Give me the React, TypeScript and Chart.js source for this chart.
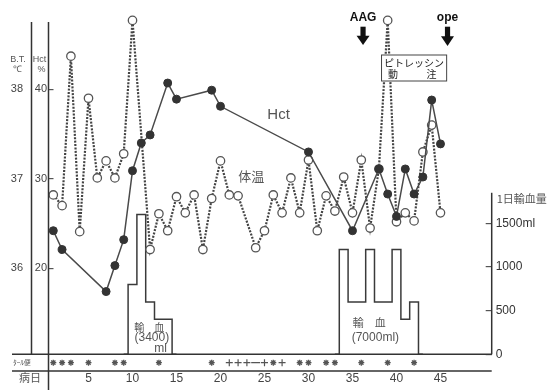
import React, { useEffect, useRef } from 'react';
import { Chart, registerables } from 'chart.js';

Chart.register(...registerables);

// ---------- data ----------
const dayTicks = [5, 10, 15, 20, 25, 30, 35, 40, 45];
const tempTicks = [36, 37, 38];
const hctTicks = [20, 30, 40];
const transfusionTicks = [0, 500, 1000, 1500];

const tempDays = [1, 2, 3, 4, 5, 6, 7, 8, 9, 10, 12, 13, 14, 15, 16, 17, 18, 19, 20, 21, 22, 24, 25, 26, 27, 28, 29, 30, 31, 32, 33, 34, 35, 36, 37, 38, 39, 40, 41, 42, 43, 44, 45];
const tempValues = [36.82, 36.7, 38.37, 36.41, 37.9, 37.01, 37.2, 37.01, 37.28, 38.77, 36.21, 36.61, 36.42, 36.8, 36.62, 36.82, 36.21, 36.78, 37.2, 36.82, 36.81, 36.23, 36.42, 36.82, 36.62, 37.01, 36.62, 37.21, 36.42, 36.81, 36.64, 37.02, 36.62, 37.21, 36.45, 37.11, 38.77, 36.52, 36.62, 36.53, 37.3, 37.6, 36.62];

const hctDays = [1, 2, 7, 8, 9, 10, 11, 12, 14, 15, 19, 20, 30, 35, 38, 39, 40, 41, 42, 43, 44, 45];
const hctValues = [24.2, 22.1, 17.4, 20.3, 23.2, 30.9, 34.0, 34.9, 40.7, 38.9, 39.9, 38.1, 33.0, 24.2, 31.1, 28.3, 25.8, 31.1, 28.3, 30.2, 38.8, 33.9];

const transfusionDays = [10, 11, 12, 13, 14, 34, 35, 36, 37, 38, 39, 40, 41, 42];
const transfusionMl = [800, 1600, 600, 400, 400, 1200, 600, 600, 1200, 600, 600, 1200, 400, 600];

const tarStoolStarDays = [1, 2, 3, 5, 8, 9, 13, 19, 26, 29, 30, 32, 33, 36, 39, 42];
const tarStoolPlusDays = [21, 22, 23, 25, 27];
const tarStoolDashDays = [24];

// ---------- layout constants ----------
const X_MIN = 0.4545;
const X_MAX = 50.82;
const T_MIN = 34.853;
const T_MAX = 38.752;
const H_MIN = 8.525;
const H_MAX = 47.52;
const V_MIN = -191.3;
const V_MAX = 3806;
const TAR_ROW = -96;
const RIGHT_AXIS_TOP = 1850;

function buildSteps(days: number[], ml: number[]) {
  const pts: { x: number; y: number | null }[] = [];
  for (let i = 0; i < days.length; i++) {
    const d = days[i];
    const startRun = i === 0 || days[i - 1] !== d - 1;
    if (startRun) {
      if (i > 0) pts.push({ x: d - 1.5, y: null });
      pts.push({ x: d - 1, y: 0 });
    }
    pts.push({ x: d, y: ml[i] });
    const endRun = i === days.length - 1 || days[i + 1] !== d + 1;
    if (endRun) pts.push({ x: d + 1, y: 0 });
  }
  return pts;
}

const FONT = 'Liberation Sans, Arial, sans-serif';
const CJK = '"Noto Sans CJK JP", sans-serif';

function line(ctx: CanvasRenderingContext2D, x1: number, y1: number, x2: number, y2: number) {
  ctx.beginPath();
  ctx.moveTo(x1, y1);
  ctx.lineTo(x2, y2);
  ctx.stroke();
}

function arrow(ctx: CanvasRenderingContext2D, cx: number, top: number, bottom: number) {
  const mid = top + (bottom - top) * 0.5;
  ctx.fillStyle = '#111';
  ctx.fillRect(cx - 2.6, top, 5.2, mid - top + 1);
  ctx.beginPath();
  ctx.moveTo(cx - 6.5, mid);
  ctx.lineTo(cx + 6.5, mid);
  ctx.lineTo(cx, bottom);
  ctx.closePath();
  ctx.fill();
}

const decor = {
  id: 'decor',
  afterDraw(chart: any) {
    const { ctx, chartArea, scales } = chart;
    const x = scales.x;
    const yT = scales.yT;
    const yH = scales.yH;
    const y2 = scales.y2;
    const base = y2.getPixelForValue(0);
    const far = 12;
    ctx.save();
    ctx.strokeStyle = '#333';
    ctx.lineWidth = 1.5;
    line(ctx, far, base, chartArea.right, base);
    line(ctx, far, chartArea.bottom, chartArea.right, chartArea.bottom);
    line(ctx, yT.right, chartArea.top, yT.right, base);
    line(ctx, chartArea.left, chartArea.top, chartArea.left, chart.height);
    line(ctx, chartArea.right, y2.getPixelForValue(RIGHT_AXIS_TOP), chartArea.right, base);

    ctx.textAlign = 'center';
    ctx.textBaseline = 'middle';
    // headers
    ctx.fillStyle = '#555';
    ctx.font = `9px ${FONT}`;
    ctx.fillText('B.T.', 18, 60);
    ctx.fillText('\u2103', 17.5, 70);
    ctx.fillText('Hct', 39.5, 60);
    ctx.fillText('%', 41.5, 70);

    // series labels
    ctx.fillStyle = '#555';
    ctx.font = `15px ${FONT}`;
    ctx.fillText('Hct', x.getPixelForValue(26.6), yH.getPixelForValue(37.2));
    ctx.font = `13px ${CJK}`;
    ctx.fillText('体温', x.getPixelForValue(23.5), yT.getPixelForValue(37.03));

    // transfusion labels
    ctx.fillStyle = '#555';
    ctx.font = `10px ${CJK}`;
    ctx.fillText('輸　血', x.getPixelForValue(11.9), y2.getPixelForValue(316));
    ctx.font = `12px ${FONT}`;
    ctx.fillText('(3400)', x.getPixelForValue(12.2), y2.getPixelForValue(187));
    ctx.textAlign = 'right';
    ctx.fillText('ml', x.getPixelForValue(13.9), y2.getPixelForValue(61));
    ctx.textAlign = 'center';
    ctx.font = `11px ${CJK}`;
    ctx.fillText('輸　血', x.getPixelForValue(36.9), y2.getPixelForValue(358));
    ctx.font = `12px ${FONT}`;
    ctx.fillText('(7000ml)', x.getPixelForValue(37.6), y2.getPixelForValue(187));

    // right axis title
    ctx.textAlign = 'left';
    ctx.font = `11px ${CJK}`;
    ctx.fillText('1日輸血量', chartArea.right + 5, y2.getPixelForValue(1779));

    // bottom rows
    ctx.textAlign = 'center';
    ctx.font = `11px ${CJK}`;
    ctx.fillText('病日', 30, 378);
    ctx.font = `7px ${CJK}`;
    ctx.fillText('ﾀｰﾙ便', 22, y2.getPixelForValue(TAR_ROW));

    // AAG / ope
    ctx.fillStyle = '#111';
    ctx.font = `bold 12px ${FONT}`;
    const aagX = x.getPixelForValue(36.2);
    const opeX = x.getPixelForValue(45.8);
    ctx.fillText('AAG', aagX, 17.5);
    ctx.fillText('ope', opeX, 18);
    arrow(ctx, aagX, 26.7, 45);
    arrow(ctx, opeX, 26.7, 46);

    // Pitressin box
    const bx1 = x.getPixelForValue(38.3);
    const bx2 = x.getPixelForValue(45.7);
    ctx.fillStyle = '#fff';
    ctx.fillRect(bx1, 55, bx2 - bx1, 26);
    ctx.strokeStyle = '#444';
    ctx.lineWidth = 1;
    ctx.strokeRect(bx1, 55, bx2 - bx1, 26);
    ctx.fillStyle = '#222';
    ctx.font = `10px ${CJK}`;
    ctx.fillText('ピトレッシン', (bx1 + bx2) / 2, 63);
    ctx.fillText('動', bx1 + 11.5, 74.5);
    ctx.fillText('注', bx1 + 50, 74.5);
    ctx.restore();
  },
};

export default function App() {
  const ref = useRef<HTMLCanvasElement | null>(null);
  useEffect(() => {
    if (!ref.current) return;
    const tarPoints = (days: number[]) => days.map((d) => ({ x: d, y: TAR_ROW }));
    const chart = new Chart(ref.current, {
      type: 'line',
      data: {
        datasets: [
          {
            label: 'Hct',
            data: hctDays.map((d, i) => ({ x: d, y: hctValues[i] })),
            yAxisID: 'yH',
            borderColor: '#4a4a4a',
            borderWidth: 1.5,
            pointRadius: 4,
            pointBackgroundColor: '#333',
            pointBorderColor: '#333',
            pointBorderWidth: 1,
            order: 0,
            clip: false,
          } as any,
          {
            label: '体温',
            data: tempDays.map((d, i) => ({ x: d, y: tempValues[i] })),
            yAxisID: 'yT',
            borderColor: '#444',
            borderWidth: 2.2,
            borderDash: [2, 1.4],
            pointRadius: 4.2,
            pointBackgroundColor: '#fff',
            pointBorderColor: '#555',
            pointBorderWidth: 1.3,
            order: 1,
            clip: false,
          } as any,
          {
            label: '輸血',
            data: buildSteps(transfusionDays, transfusionMl),
            yAxisID: 'y2',
            stepped: 'middle',
            spanGaps: false,
            borderColor: '#3a3a3a',
            borderWidth: 1.5,
            pointRadius: 0,
            order: 2,
          } as any,
          {
            label: 'tarStar',
            data: tarPoints(tarStoolStarDays),
            yAxisID: 'y2',
            showLine: false,
            pointStyle: 'star',
            pointRadius: 3,
            pointBorderColor: '#555',
            pointBorderWidth: 1.3,
            order: 3,
          } as any,
          {
            label: 'tarPlus',
            data: tarPoints(tarStoolPlusDays),
            yAxisID: 'y2',
            showLine: false,
            pointStyle: 'cross',
            pointRadius: 3.5,
            pointBorderColor: '#555',
            pointBorderWidth: 1.2,
            order: 3,
          } as any,
          {
            label: 'tarDash',
            data: tarPoints(tarStoolDashDays),
            yAxisID: 'y2',
            showLine: false,
            pointStyle: 'line',
            pointRadius: 4.5,
            pointBorderColor: '#555',
            pointBorderWidth: 1.2,
            order: 3,
          } as any,
        ],
      },
      options: {
        animation: false,
        responsive: false,
        maintainAspectRatio: false,
        layout: { padding: { top: 22, left: 0, right: 0, bottom: 0 } },
        plugins: { legend: { display: false }, tooltip: { enabled: false } },
        scales: {
          x: {
            type: 'linear',
            position: 'bottom',
            min: X_MIN,
            max: X_MAX,
            afterBuildTicks: (s: any) => {
              s.ticks = dayTicks.map((v) => ({ value: v }));
            },
            afterFit: (s: any) => {
              s.height = 19;
            },
            grid: { display: false, drawTicks: false },
            border: { display: false },
            ticks: {
              autoSkip: false,
              maxRotation: 0,
              padding: 0,
              color: '#444',
              font: { family: FONT, size: 12 },
            },
          },
          yT: {
            type: 'linear',
            position: 'left',
            weight: 2,
            min: T_MIN,
            max: T_MAX,
            afterBuildTicks: (s: any) => {
              s.ticks = tempTicks.map((v) => ({ value: v }));
            },
            afterFit: (s: any) => {
              s.width = 31.5;
            },
            grid: { display: false, drawTicks: false },
            border: { display: false },
            ticks: { padding: 8.5, color: '#444', font: { family: FONT, size: 11 } },
          },
          yH: {
            type: 'linear',
            position: 'left',
            weight: 1,
            min: H_MIN,
            max: H_MAX,
            afterBuildTicks: (s: any) => {
              s.ticks = hctTicks.map((v) => ({ value: v }));
            },
            afterFit: (s: any) => {
              s.width = 17;
            },
            grid: { display: true, drawOnChartArea: false, drawTicks: true, tickLength: -5, color: '#555', lineWidth: 1.2 },
            border: { display: false },
            ticks: { padding: 6.5, color: '#444', font: { family: FONT, size: 11 } },
          },
          y2: {
            type: 'linear',
            position: 'right',
            min: V_MIN,
            max: V_MAX,
            afterBuildTicks: (s: any) => {
              s.ticks = transfusionTicks.map((v) => ({ value: v }));
            },
            afterFit: (s: any) => {
              s.width = 59.3;
            },
            grid: { display: true, drawOnChartArea: false, drawTicks: true, tickLength: -6, color: '#555', lineWidth: 1.2 },
            border: { display: false },
            ticks: {
              padding: 10,
              color: '#333',
              font: { family: FONT, size: 12 },
              callback: (v: any) => (Number(v) === 1500 ? '1500ml' : String(v)),
            },
          },
        },
      },
      plugins: [decor],
    });
    return () => chart.destroy();
  }, []);
  return (
    <div style={{ position: 'absolute', left: 0, top: 0, width: 551, height: 390, background: '#fff' }}>
      <canvas ref={ref} width={551} height={390} />
    </div>
  );
}
